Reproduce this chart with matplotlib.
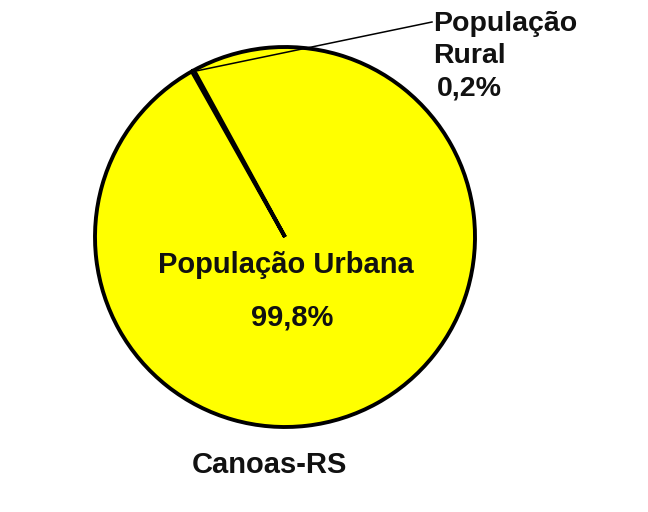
import numpy as np
import matplotlib
matplotlib.use("Agg")
import matplotlib.pyplot as plt

categories = ["População Urbana", "População Rural"]
values = [99.8, 0.2]
value_labels = ["99,8%", "0,2%"]
colors = ["#FFFF00", "#0A0AF0"]
title = "Canoas-RS"

W, H = 648, 512
fig = plt.figure(figsize=(W / 100, H / 100), dpi=100)
ax = fig.add_axes([0, 0, 1, 1])

cx, cy, r = 285, H - 237, 190
start = 119.0 - 360 * values[0] / 100 - 360 * values[1] / 200 + 360
wedges, _ = ax.pie(values, colors=colors, startangle=start, counterclock=True,
                   center=(cx, cy), radius=r, frame=True,
                   wedgeprops=dict(edgecolor="black", linewidth=2.8))
wedges[1].set_linewidth(1.6)
ax.set_xlim(0, W)
ax.set_ylim(0, H)
ax.set_aspect("equal")
ax.axis("off")

base = dict(family=["Liberation Sans", "DejaVu Sans"], fontweight="bold",
            color="#111111")

# urban label inside pie
ax.text(cx + 1, H - 265, categories[0], ha="center", va="center", fontsize=21, **base)
ax.text(cx + 7, H - 317, value_labels[0], ha="center", va="center", fontsize=21, **base)

# rural label with leader line
w = wedges[1]
mid = np.deg2rad((w.theta1 + w.theta2) / 2)
px, py = cx + r * np.cos(mid) + 4, cy + r * np.sin(mid)
tx, ty = 432, H - 22
ax.plot([px, tx], [py, ty], color="black", linewidth=1.1)
ax.text(433, H - 24, "População", ha="left", va="center", fontsize=20.5, **base)
ax.text(433, H - 56, "Rural", ha="left", va="center", fontsize=20.5, **base)
ax.text(437, H - 89, value_labels[1], ha="left", va="center", fontsize=20.5, **base)

ax.text(269, H - 465, title, ha="center", va="center", fontsize=21, **base)

fig.savefig("out.png", dpi=100, facecolor="white")
